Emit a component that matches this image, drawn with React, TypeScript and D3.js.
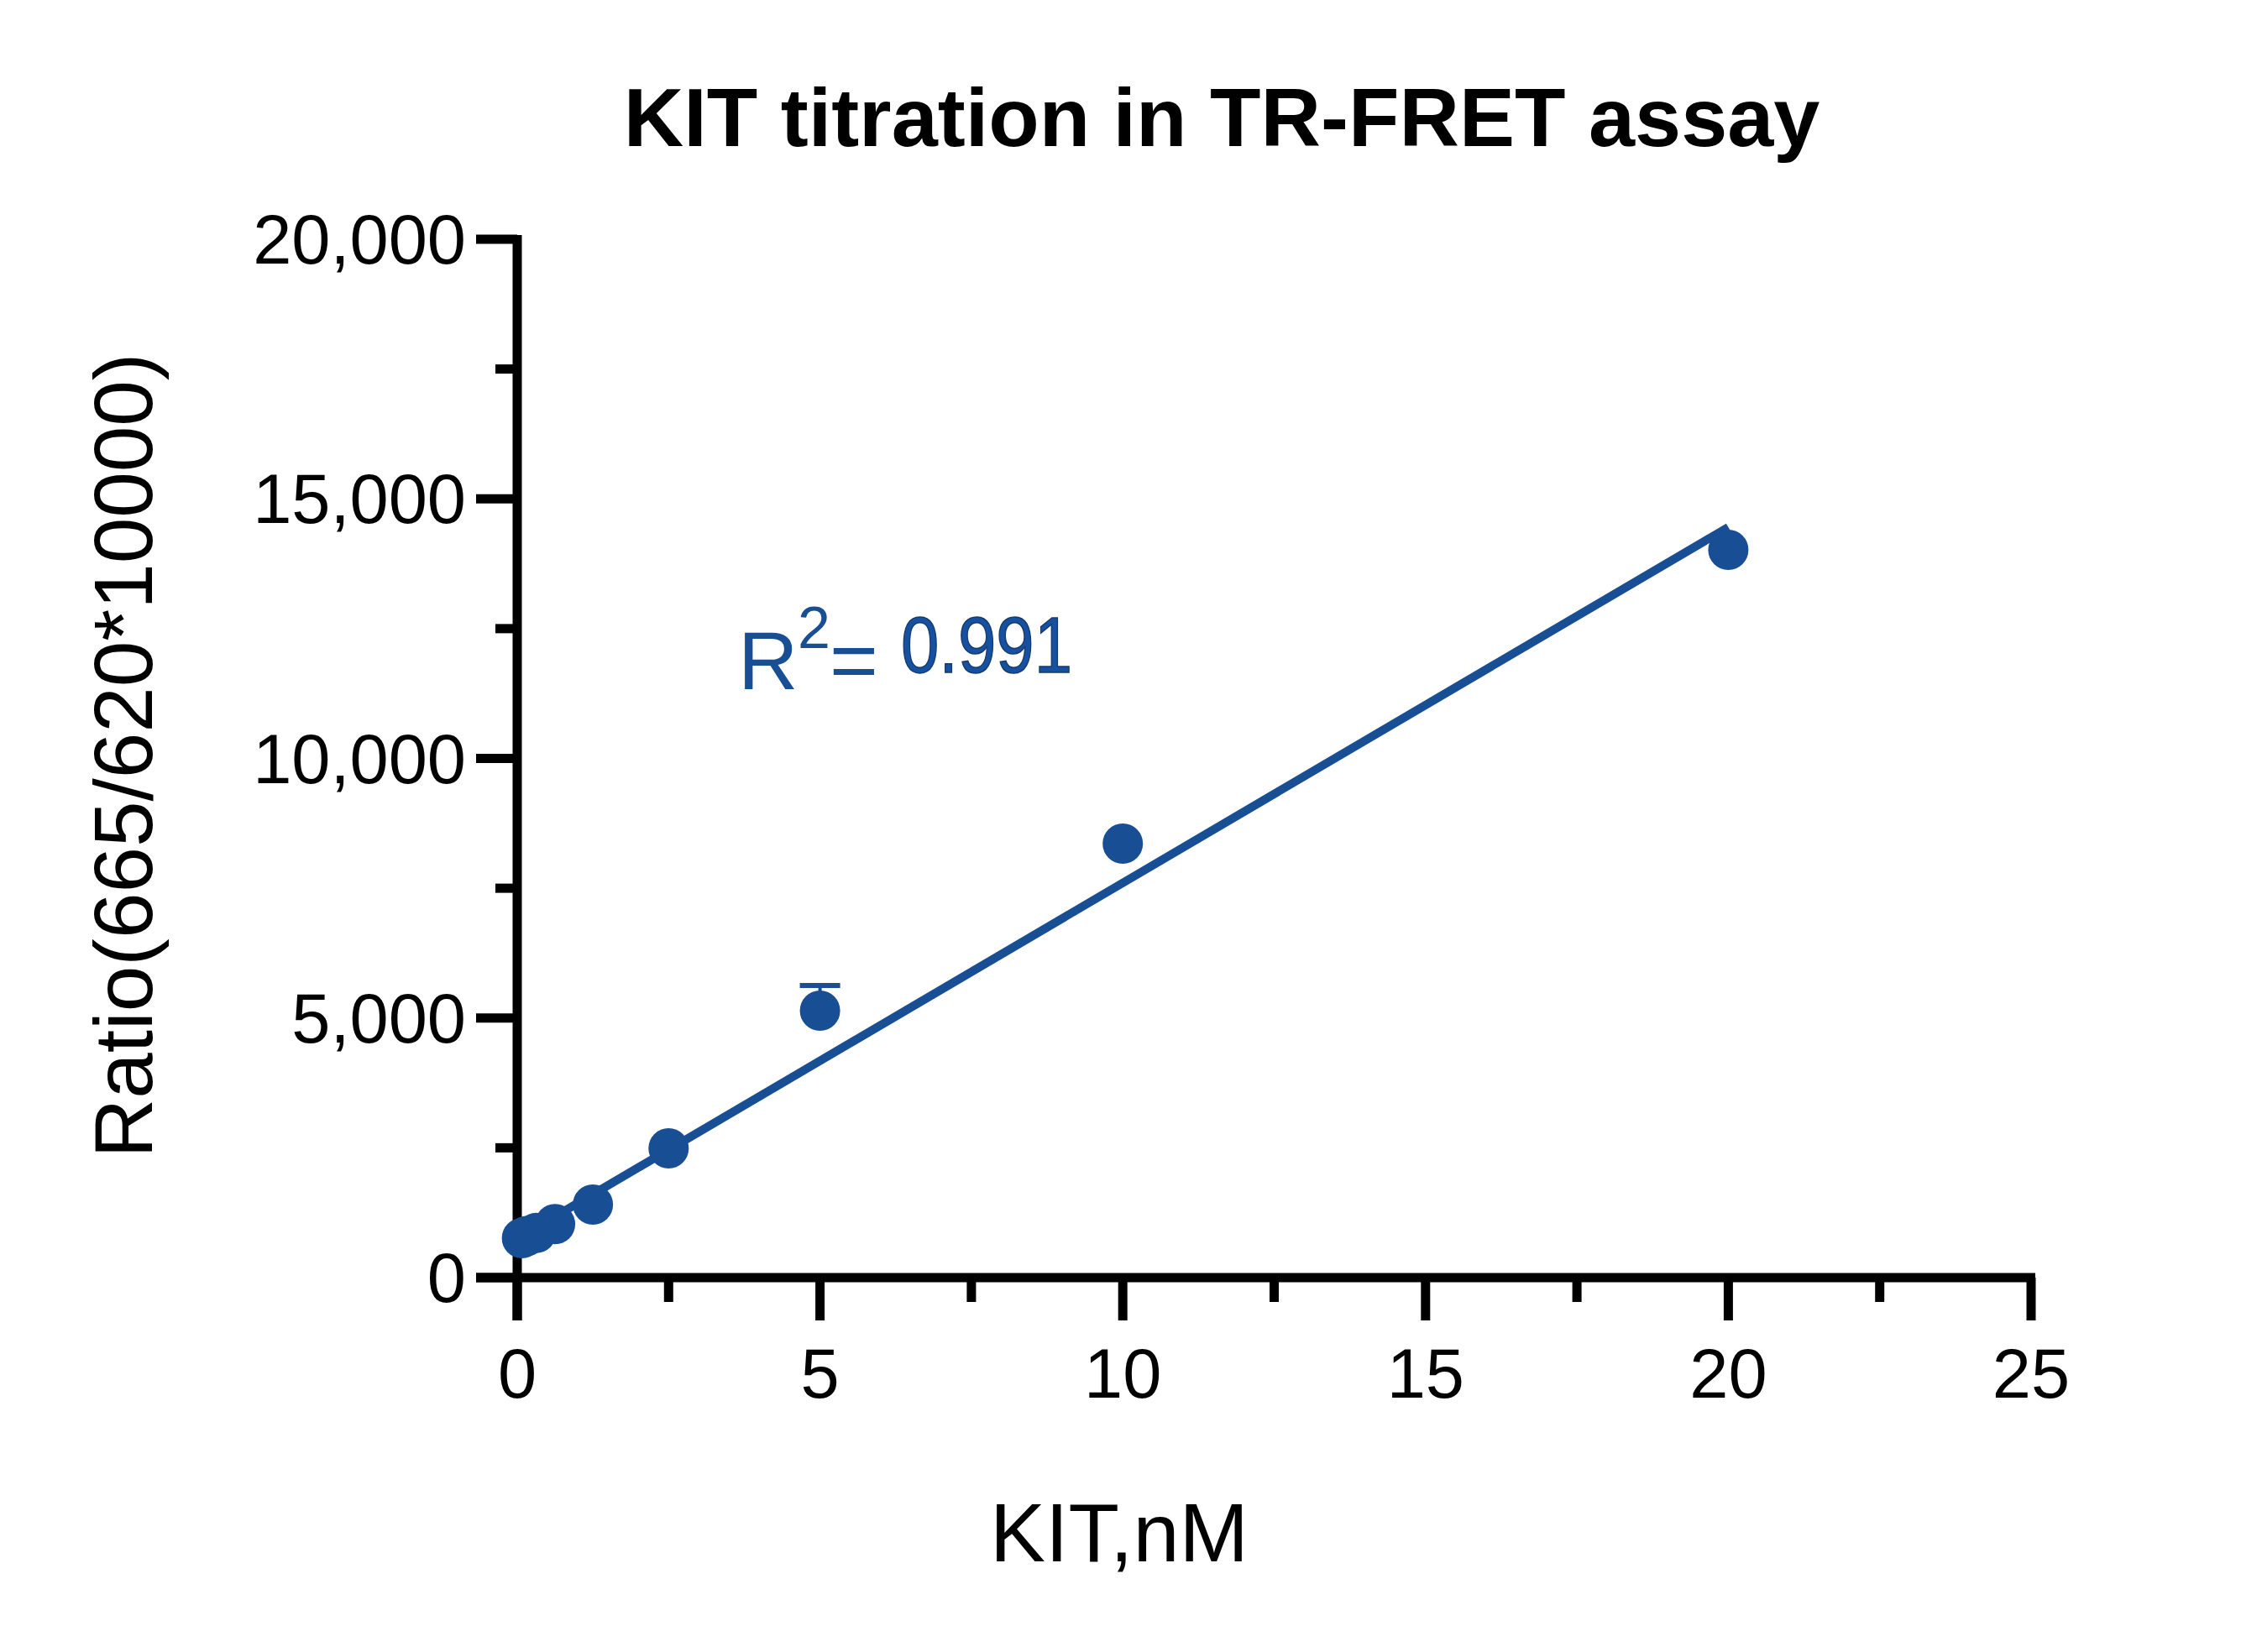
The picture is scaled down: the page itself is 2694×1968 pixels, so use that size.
import React from "react";
import * as d3 from "d3";

const W = 2694;
const H = 1968;

const titleText = "KIT titration in TR-FRET assay";
const xTitle = "KIT,nM";
const yTitle = "Ratio(665/620*10000)";

const kitNM = [0.078, 0.156, 0.3125, 0.625, 1.25, 2.5, 5, 10, 20];
const ratioMean = [760, 800, 860, 1030, 1407, 2490, 5141, 8359, 14018];
const ratioErr = [0, 0, 0, 0, 0, 0, 486, 0, 0];

const fitX = [0.078, 20];
const fitY = [803, 14454];

const xMajor = [0, 5, 10, 15, 20, 25];
const xMinor = [2.5, 7.5, 12.5, 17.5, 22.5];
const yMajor = [0, 5000, 10000, 15000, 20000];
const yMinor = [2500, 7500, 12500, 17500];

const r2Label = "0.991";

const BLUE = "#184e94";
const FONT = "'Liberation Sans', Arial, Helvetica, sans-serif";

export default function App() {
  const x = d3.scaleLinear().domain([0, 25]).range([616, 2419]);
  const y = d3.scaleLinear().domain([0, 20000]).range([1522, 285]);
  const fmt = d3.format(",");

  const line = d3
    .line<number>()
    .x((_, i) => x(fitX[i]))
    .y((d) => y(d));

  const axisW = 11;
  const x0 = x(0);
  const y0 = y(0);

  return (
    <svg
      width={W}
      height={H}
      style={{ position: "absolute", left: 0, top: 0, background: "#fff" }}
      fontFamily={FONT}
    >
      <rect width={W} height={H} fill="#fff" />
      {/* title */}
      <text x={1455} y={174} fontSize={99} fontWeight="bold" textAnchor="middle" fill="#000">
        {titleText}
      </text>

      {/* axes */}
      <line x1={567} x2={x(25) + 5} y1={y0} y2={y0} stroke="#000" strokeWidth={axisW} />
      <line x1={x0} x2={x0} y1={y(20000) - 5} y2={1573} stroke="#000" strokeWidth={axisW} />

      {xMajor.map((v) => (
        <line key={"xM" + v} x1={x(v)} x2={x(v)} y1={y0} y2={1573} stroke="#000" strokeWidth={axisW} />
      ))}
      {xMinor.map((v) => (
        <line key={"xm" + v} x1={x(v)} x2={x(v)} y1={y0} y2={1551} stroke="#000" strokeWidth={axisW} />
      ))}
      {yMajor.map((v) => (
        <line key={"yM" + v} x1={567} x2={x0} y1={y(v)} y2={y(v)} stroke="#000" strokeWidth={axisW} />
      ))}
      {yMinor.map((v) => (
        <line key={"ym" + v} x1={590} x2={x0} y1={y(v)} y2={y(v)} stroke="#000" strokeWidth={axisW} />
      ))}

      {xMajor.map((v) => (
        <text key={"xl" + v} x={x(v)} y={1665} fontSize={83} textAnchor="middle" fill="#000">
          {String(v)}
        </text>
      ))}
      {yMajor.map((v) => (
        <text key={"yl" + v} x={555} y={y(v) + 29} fontSize={83} textAnchor="end" fill="#000">
          {fmt(v)}
        </text>
      ))}

      {/* axis titles */}
      <text x={1333} y={1860} fontSize={99} textAnchor="middle" fill="#000">
        {xTitle}
      </text>
      <text
        transform={`translate(181,900) rotate(-90)`}
        fontSize={98}
        textAnchor="middle"
        fill="#000"
      >
        {yTitle}
      </text>

      {/* fit line */}
      <path d={line(fitY) || ""} fill="none" stroke={BLUE} strokeWidth={10} strokeLinecap="butt" />

      {/* points */}
      {kitNM.map((k, i) => (
        <circle key={"p" + i} cx={x(k)} cy={y(ratioMean[i])} r={24} fill={BLUE} />
      ))}
      {/* error bars (upper) */}
      {kitNM.map((k, i) =>
        ratioErr[i] > 0 ? (
          <g key={"e" + i}>
            <line
              x1={x(k)}
              x2={x(k)}
              y1={y(ratioMean[i])}
              y2={y(ratioMean[i] + ratioErr[i])}
              stroke={BLUE}
              strokeWidth={4}
            />
            <line
              x1={x(k) - 24}
              x2={x(k) + 24}
              y1={y(ratioMean[i] + ratioErr[i])}
              y2={y(ratioMean[i] + ratioErr[i])}
              stroke={BLUE}
              strokeWidth={6}
            />
          </g>
        ) : null
      )}

      {/* R squared annotation */}
      <text x={879} y={821} fontSize={99} fill={BLUE}>R</text>
      <text x={950} y={772} fontSize={70} fill={BLUE}>2</text>
      <text x={988} y={821} fontSize={99} fill={BLUE}>=</text>
      <text
        x={1073}
        y={801}
        fontSize={95}
        fill="#1650a0"
        stroke="#163a6a"
        strokeWidth={1.5}
        textLength={204}
        lengthAdjust="spacingAndGlyphs"
      >
        {r2Label}
      </text>
    </svg>
  );
}
